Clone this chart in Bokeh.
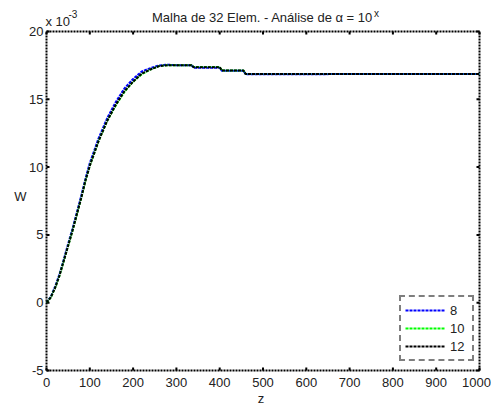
import math
from bokeh.plotting import figure
from bokeh.models import ColumnDataSource, Legend, LegendItem, Range1d
from bokeh.core.properties import value
from bokeh.embed import file_html
from bokeh.resources import INLINE

# Deflection W (in units of 1e-3) along z for three values of the exponent x
z = [0, 10, 20, 30, 40, 50, 60, 70, 80, 90, 100, 120, 140, 160, 180, 200,
     220, 240, 260, 280, 300, 335, 340, 400, 405, 455, 460, 750, 1000]
w_8 = [0, 0.45, 1.2, 2.1, 3.2, 4.35, 5.45, 6.65, 7.85, 9.15, 10.3, 12.1, 13.6,
       14.8, 15.8, 16.5, 17.05, 17.3, 17.5, 17.55, 17.52, 17.5, 17.33, 17.33,
       17.1, 17.1, 16.85, 16.86, 16.86]
w_10 = [0, 0.4, 1.1, 2.0, 3.1, 4.2, 5.3, 6.5, 7.7, 9.0, 10.1, 11.9, 13.4,
        14.55, 15.55, 16.3, 16.85, 17.2, 17.45, 17.52, 17.52, 17.52, 17.38,
        17.38, 17.13, 17.13, 16.87, 16.87, 16.86]
w_12 = [0, 0.4, 1.1, 2.0, 3.1, 4.2, 5.3, 6.5, 7.7, 9.0, 10.1, 11.9, 13.4,
        14.6, 15.6, 16.3, 16.9, 17.2, 17.45, 17.52, 17.52, 17.52, 17.37,
        17.37, 17.12, 17.12, 16.86, 16.86, 16.86]

series_names = ["8", "10", "12"]
series_colors = ["#0000ff", "#00ff00", "#000000"]

x_ticks = [0, 100, 200, 300, 400, 500, 600, 700, 800, 900, 1000]
y_ticks = [-5, 0, 5, 10, 15, 20]
x_tick_labels = [str(t) for t in x_ticks]
y_tick_labels = [str(t) for t in y_ticks]

FONT = "Liberation Sans"
TXT = "#222222"
W, H = 491, 406

# Pixel box of the axes inside the canvas
BOX_L, BOX_R, BOX_T, BOX_B = 46, 479, 31, 370

xmin, xmax = x_ticks[0], x_ticks[-1]
ymin, ymax = y_ticks[0], y_ticks[-1]
kx = (xmax - xmin) / (BOX_R - BOX_L)
ky = (ymax - ymin) / (BOX_B - BOX_T)
x_range = Range1d(xmin - BOX_L * kx, xmax + (W - BOX_R) * kx)
y_range = Range1d(ymin - (H - BOX_B) * ky, ymax + BOX_T * ky)

p = figure(width=W, height=H, output_backend="svg", toolbar_location=None,
           x_range=x_range, y_range=y_range, min_border=0,
           x_axis_location=None, y_axis_location=None)
p.outline_line_color = None
p.background_fill_color = "white"
p.border_fill_color = "white"
p.xgrid.visible = False
p.ygrid.visible = False

# Axes box
box_style = dict(line_color="black", line_width=2, line_dash="2 1")
p.multi_line(xs=[[xmin, xmax], [xmin, xmax], [xmin, xmin], [xmax, xmax]],
             ys=[[ymin, ymin], [ymax, ymax], [ymin, ymax], [ymin, ymax]],
             **box_style)

# Inward tick marks on all four sides
tick_style = dict(length=3, length_units="screen", line_color="black",
                  line_width=2)
nx, ny = len(x_ticks), len(y_ticks)
p.ray(x=x_ticks, y=[ymin] * nx, angle=math.pi / 2, **tick_style)
p.ray(x=x_ticks, y=[ymax] * nx, angle=-math.pi / 2, **tick_style)
p.ray(x=[xmin] * ny, y=y_ticks, angle=0, **tick_style)
p.ray(x=[xmax] * ny, y=y_ticks, angle=math.pi, **tick_style)

text_style = dict(text_font=value(FONT), text_color=TXT)
# the last x label is nudged left so it stays inside the canvas
x_label_shift = [0] * (nx - 1) + [-3]
p.text(x=x_ticks, y=[ymin] * nx, text=x_tick_labels, x_offset=x_label_shift,
       y_offset=7, text_align="center", text_baseline="top",
       text_font_size=value("13px"), **text_style)
p.text(x=[xmin] * ny, y=y_ticks, text=y_tick_labels, x_offset=-3,
       text_align="right", text_baseline="middle",
       text_font_size=value("13px"), **text_style)

# Curves
src = ColumnDataSource(dict(z=z, w8=w_8, w10=w_10, w12=w_12))
renderers = []
for key, color in zip(["w8", "w10", "w12"], series_colors):
    r = p.line("z", key, source=src, line_color=color, line_width=2,
               line_dash="3 1")
    renderers.append(r)

xmid = (xmin + xmax) / 2

# Title with superscript exponent
p.text(x=[xmid], y=[ymax], text=["Malha de 32 Elem. - Análise de α = 10"],
       x_offset=110, y_offset=-14, text_align="right",
       text_baseline="middle", text_font_size=value("13px"), **text_style)
p.text(x=[xmid], y=[ymax], text=["x"], x_offset=111, y_offset=-18,
       text_align="left", text_baseline="middle",
       text_font_size=value("10px"), **text_style)

# Scale factor of the W axis
p.text(x=[xmin], y=[ymax], text=["x 10"], x_offset=-1, y_offset=-10,
       text_align="left", text_baseline="middle",
       text_font_size=value("13px"), **text_style)
p.text(x=[xmin], y=[ymax], text=["-3"], x_offset=22, y_offset=-18,
       text_align="left", text_baseline="middle",
       text_font_size=value("10px"), **text_style)

# Axis titles
p.text(x=[xmin], y=[(ymin + ymax) / 2], text=["W"], x_offset=-26,
       y_offset=-5, text_align="center", text_baseline="middle",
       text_font_size=value("13px"), **text_style)
p.text(x=[xmid], y=[ymin], text=["z"], x_offset=-2, y_offset=28,
       text_align="center", text_baseline="middle",
       text_font_size=value("13px"), **text_style)

legend = Legend(items=[LegendItem(label=n, renderers=[r])
                       for n, r in zip(series_names, renderers)],
                location=(399, 45), orientation="vertical")
legend.border_line_color = "black"
legend.border_line_width = 2
legend.border_line_dash = "2 1"
legend.background_fill_color = "white"
legend.background_fill_alpha = 1
legend.label_text_font = FONT
legend.label_text_font_size = "13px"
legend.label_text_color = TXT
legend.glyph_width = 40
legend.glyph_height = 18
legend.label_height = 18
legend.label_width = 18
legend.label_standoff = 5
legend.padding = 4
legend.spacing = 0
legend.margin = 0
p.add_layout(legend, "center")

open("out.html", "w").write(file_html(p, INLINE))
